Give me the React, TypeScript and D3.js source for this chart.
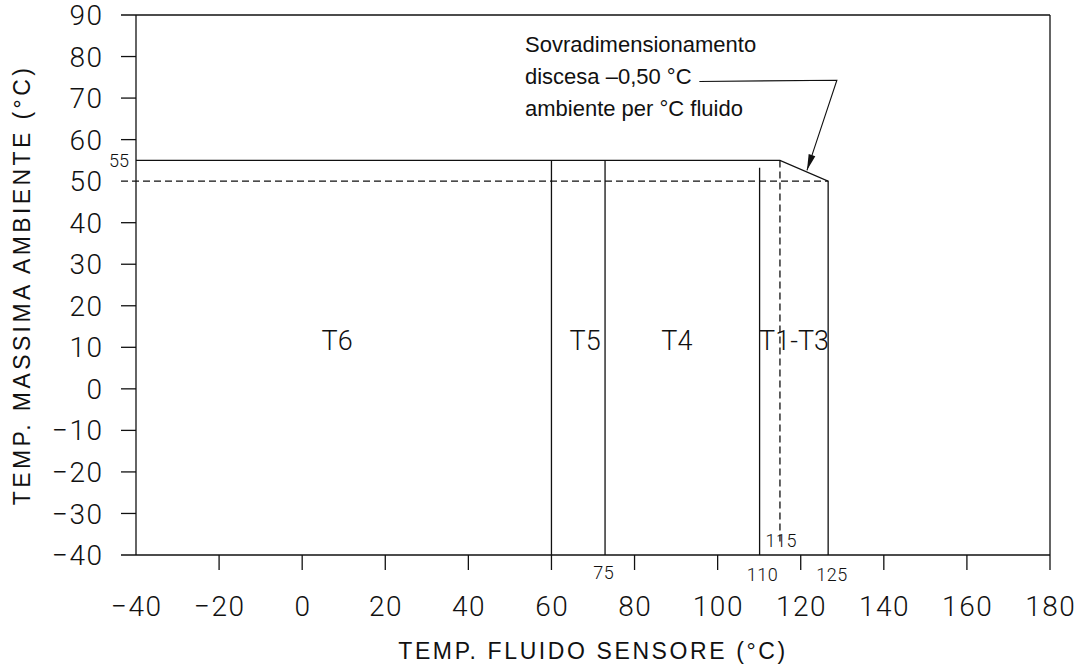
import React, { useEffect, useRef } from 'react'
import * as d3 from 'd3'

// axis ticks
const xTickValues = [-20, 0, 20, 40, 60, 80, 100, 120, 140, 160, 180]
const xTickLabels = [-40, -20, 0, 20, 40, 60, 80, 100, 120, 140, 160, 180]
const yTickValues = [90, 80, 70, 60, 50, 40, 30, 20, 10, 0, -10, -20, -30, -40]

// zone boundaries (fluid temp, as drawn) and their top (ambient temp)
const zoneLines = [60, 72.9, 110.1]
const zoneTops = [55, 55, 53.2]
const limitTop = 55
const limitDerated = 50
const kneeFluid = 115
const endFluid = 126.6

// small marker labels: [text, x, y]
const markerLabels: [string, number, number][] = [
  ['75', 72.6, -44.2],
  ['110', 110.8, -44.6],
  ['125', 127.5, -44.6],
  ['115', 115.3, -36.5],
]

// zone names and label positions
const zoneNames = ['T6', 'T5', 'T4', 'T1-T3']
const zoneLabelX = [8.4, 68.1, 90.2, 118.4]
const zoneLabelY = 11.8

const noteLines = ['Sovradimensionamento', 'discesa \u20130,50 \u00b0C', 'ambiente per \u00b0C fluido']
// leader: start of horizontal, elbow, arrow tip
const leader: [number, number][] = [[95.6, 74], [128.7, 74.3], [121.5, 52.6]]

const minus = (v: number) => (v < 0 ? '\u2212' + Math.abs(v) : String(v))

const App = () => {
  const ref = useRef<SVGSVGElement>(null)
  const width = 1080
  const height = 667

  useEffect(() => {
    const svg = d3.select(ref.current)
    svg.selectAll('*').remove()

    const x = d3.scaleLinear().domain([-40, 180]).range([136, 1050])
    const y = d3.scaleLinear().domain([-40, 90]).range([555, 15])
    const tick = 15
    const cadFont = 'Roboto, "Liberation Sans", sans-serif'
    const sw = 1.3

    const g = svg.append('g').attr('stroke', '#111').attr('stroke-width', sw).attr('fill', 'none')

    // frame
    g.append('line').attr('x1', x(-40) - tick).attr('x2', x(180)).attr('y1', y(90)).attr('y2', y(90))
    g.append('line').attr('x1', x(180)).attr('x2', x(180)).attr('y1', y(90)).attr('y2', y(-40))
    g.append('line').attr('x1', x(-40)).attr('x2', x(-40)).attr('y1', y(90)).attr('y2', y(-40))
    g.append('line').attr('x1', x(-40) - tick).attr('x2', x(180)).attr('y1', y(-40)).attr('y2', y(-40))

    // y ticks
    g.selectAll('.yt').data(yTickValues.filter((d) => d !== 90 && d !== -40 && d !== 50))
      .enter().append('line')
      .attr('x1', x(-40) - tick).attr('x2', x(-40))
      .attr('y1', (d) => y(d)).attr('y2', (d) => y(d))

    // x ticks
    g.selectAll('.xt').data(xTickValues)
      .enter().append('line')
      .attr('x1', (d) => x(d)).attr('x2', (d) => x(d))
      .attr('y1', y(-40)).attr('y2', y(-40) + tick)

    // zone separators
    g.selectAll('.zl').data(zoneLines)
      .enter().append('line')
      .attr('x1', (d) => x(d)).attr('x2', (d) => x(d))
      .attr('y1', (d, i) => y(zoneTops[i])).attr('y2', y(-40))

    // limit envelope
    const env: [number, number][] = [[-40, limitTop], [kneeFluid, limitTop], [endFluid, limitDerated], [endFluid, -40]]
    g.append('path').attr('d', d3.line()(env.map(([a, b]) => [x(a), y(b)])))

    // dashed 50 line and 115 line
    g.append('line').attr('stroke-dasharray', '7,4')
      .attr('x1', x(-40) - tick).attr('x2', x(endFluid))
      .attr('y1', y(limitDerated)).attr('y2', y(limitDerated))
    g.append('line').attr('stroke-dasharray', '7,4')
      .attr('x1', x(kneeFluid)).attr('x2', x(kneeFluid))
      .attr('y1', y(limitTop)).attr('y2', y(-37))

    // leader with arrow
    g.append('path').attr('stroke-width', 1.1)
      .attr('d', d3.line()(leader.map(([a, b]) => [x(a), y(b)])))
    const [ex, ey] = [x(leader[1][0]), y(leader[1][1])]
    const [tx, ty] = [x(leader[2][0]), y(leader[2][1])]
    const ang = Math.atan2(ty - ey, tx - ex)
    const al = 16, aw = 3.5
    const bx = tx - al * Math.cos(ang), by = ty - al * Math.sin(ang)
    svg.append('path').attr('fill', '#111')
      .attr('d', `M${tx},${ty}L${bx + aw * Math.sin(ang)},${by - aw * Math.cos(ang)}L${bx - aw * Math.sin(ang)},${by + aw * Math.cos(ang)}Z`)

    // tick labels (letter-spacing trails the last glyph, so nudge right)
    const t = svg.append('g').attr('fill', '#111').attr('font-family', cadFont).attr('font-weight', 300)
    t.selectAll('.yl').data(yTickValues).enter().append('text')
      .attr('x', x(-40) - 32.5).attr('y', (d) => y(d)).attr('dy', '0.36em')
      .attr('text-anchor', 'end').attr('font-size', 28).attr('letter-spacing', 1.5)
      .text((d) => minus(d))
    t.selectAll('.xl').data(xTickLabels).enter().append('text')
      .attr('x', (d) => x(d) + 0.75).attr('y', 606).attr('dy', '0.36em')
      .attr('text-anchor', 'middle').attr('font-size', 28).attr('letter-spacing', 1.5)
      .text((d) => minus(d))

    // small labels
    t.append('text').attr('x', x(-40) - 7).attr('y', y(limitTop)).attr('dy', '0.36em')
      .attr('text-anchor', 'end').attr('font-size', 18).text(String(limitTop))
    t.selectAll('.ml').data(markerLabels).enter().append('text')
      .attr('x', (d) => x(d[1])).attr('y', (d) => y(d[2])).attr('dy', '0.36em')
      .attr('text-anchor', 'middle').attr('font-size', 18).attr('letter-spacing', 0.5)
      .text((d) => d[0])

    // zone names
    t.selectAll('.zn').data(zoneNames).enter().append('text')
      .attr('x', (d, i) => x(zoneLabelX[i])).attr('y', y(zoneLabelY)).attr('dy', '0.36em')
      .attr('text-anchor', 'middle').attr('font-size', 27)
      .text((d) => d)

    // note
    const helv = '"Liberation Sans", Arial, sans-serif'
    svg.append('g').selectAll('text').data(noteLines).enter().append('text')
      .attr('x', 525).attr('y', (d, i) => 52 + i * 32)
      .attr('font-family', helv).attr('font-size', 22).attr('fill', '#111')
      .text((d) => d)

    // axis titles
    svg.append('text').attr('x', 593).attr('y', 659)
      .attr('text-anchor', 'middle').attr('font-family', helv).attr('font-size', 23)
      .attr('letter-spacing', 2.6).attr('fill', '#111')
      .text('TEMP. FLUIDO SENSORE (\u00b0C)')
    svg.append('text').attr('transform', 'translate(30,285) rotate(-90)')
      .attr('text-anchor', 'middle').attr('font-family', helv).attr('font-size', 23)
      .attr('letter-spacing', 3.4).attr('fill', '#111')
      .text('TEMP. MASSIMA AMBIENTE (\u00b0C)')
  }, [])

  return (
    <svg ref={ref} width={width} height={height}
      style={{ position: 'absolute', left: 0, top: 0, background: '#fff' }} />
  )
}

export default App
